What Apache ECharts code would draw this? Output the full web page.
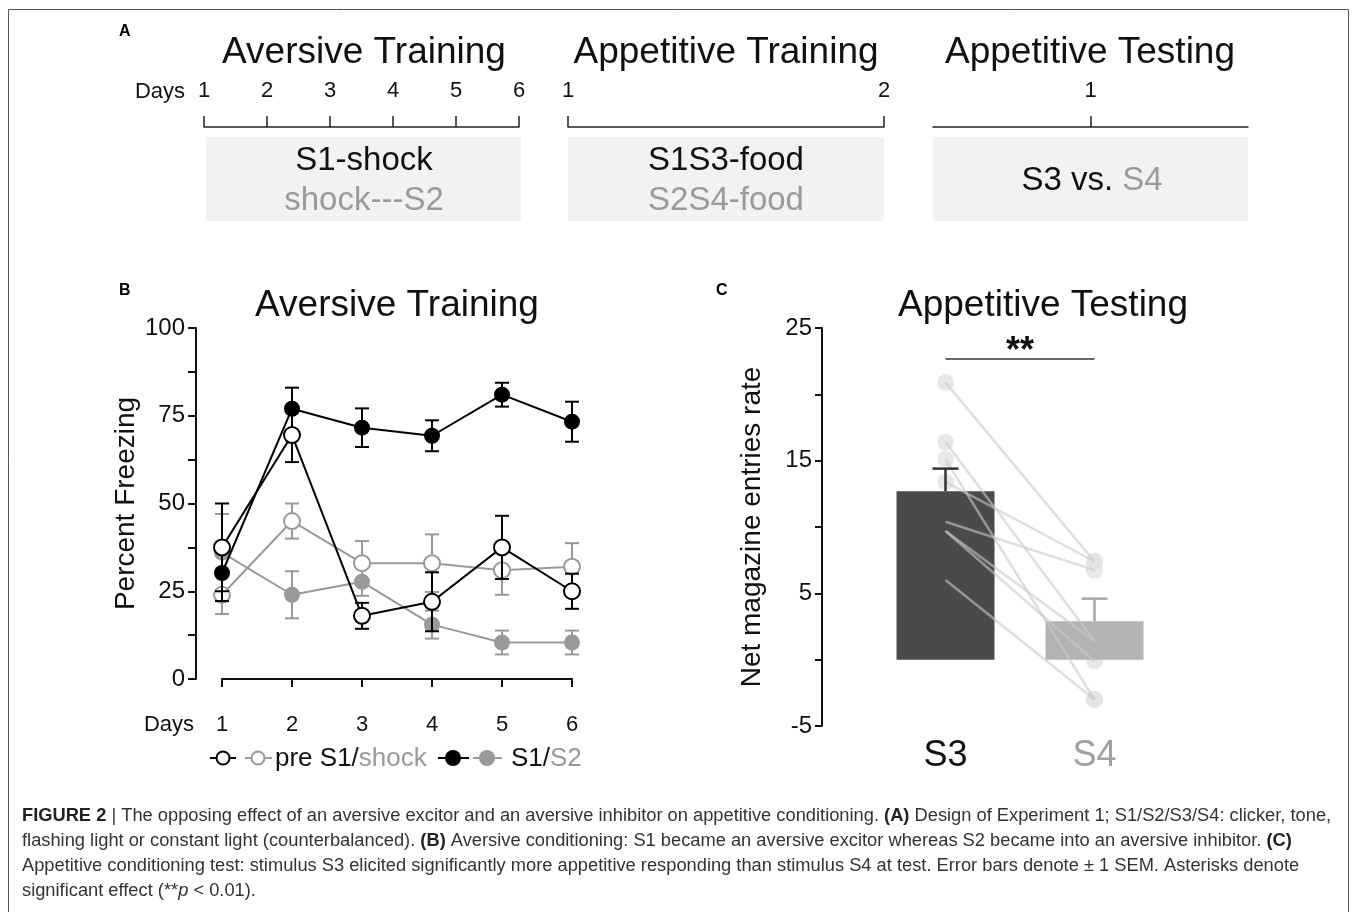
<!DOCTYPE html>
<html>
<head>
    <meta charset="utf-8">
    <title>Figure 2</title>
    <script src="https://cdn.jsdelivr.net/npm/echarts@6/dist/echarts.min.js"></script>
    <style>
        body { margin: 0; background: #fff; }
        #main { width: 1354px; height: 912px; }
    </style>
</head>
<body>
<div id="main"></div>
<script type="text/javascript">
    // panel B: aversive training, percent freezing by day
    var days = [1, 2, 3, 4, 5, 6];
    var preS1 = [37.5, 69.5, 18, 22, 37.5, 25];
    var preS1Sem = [12.5, 7.7, 3.7, 8.4, 9, 5];
    var preShock = [24, 45, 33, 33, 31, 32];
    var preShockSem = [5.5, 5, 6.3, 8.2, 7, 6.7];
    var s1 = [30.2, 77, 71.6, 69.3, 81, 73.3];
    var s1Sem = [8, 6, 5.5, 4.4, 3.4, 5.7];
    var s2 = [36, 24, 27.7, 15.5, 10.4, 10.4];
    var s2Sem = [11, 6.7, 4, 4, 3.4, 3.4];

    // panel C: appetitive testing
    var groups = ['S3', 'S4'];
    var groupMean = [12.7, 2.9];
    var groupSem = [1.7, 1.7];
    var subjS3 = [20.9, 16.4, 15.1, 13.4, 10.4, 9.7, 9.7, 6.0];
    var subjS4 = [7.4, 1.4, -3.0, 7.4, 6.75, -0.1, 1.4, -3.0];

    var FONT = 'Liberation Sans, Arial, sans-serif';
    var GRAY = '#999';

    function pairs(xs, ys, es) {
        return xs.map(function (x, i) { return es ? [x, ys[i], es[i]] : [x, ys[i]]; });
    }

    function errRender(color) {
        return function (params, api) {
            var x = api.value(0), m = api.value(1), e = api.value(2);
            var top = api.coord([x, m + e]);
            var bot = api.coord([x, m - e]);
            var w = 7;
            var st = {stroke: color, lineWidth: 2, fill: null};
            return {
                type: 'group', children: [
                    {type: 'line', shape: {x1: top[0], y1: top[1], x2: bot[0], y2: bot[1]}, style: st},
                    {type: 'line', shape: {x1: top[0] - w, y1: top[1], x2: top[0] + w, y2: top[1]}, style: st},
                    {type: 'line', shape: {x1: bot[0] - w, y1: bot[1], x2: bot[0] + w, y2: bot[1]}, style: st}
                ]
            };
        };
    }

    function upErrRender(params, api) {
        var x = api.value(0), m = api.value(1), e = api.value(2);
        var base = api.coord([x, m]);
        var top = api.coord([x, m + e]);
        var color = x === 0 ? '#333' : '#a8a8a8';
        var st = {stroke: color, lineWidth: 2.5, fill: null};
        return {
            type: 'group', children: [
                {type: 'line', shape: {x1: base[0], y1: base[1], x2: top[0], y2: top[1]}, style: st},
                {type: 'line', shape: {x1: top[0] - 13, y1: top[1], x2: top[0] + 13, y2: top[1]}, style: st}
            ]
        };
    }

    function pairLineRender(params, api) {
        var a = api.coord([0, api.value(0)]);
        var b = api.coord([1, api.value(1)]);
        return {
            type: 'line',
            shape: {x1: a[0], y1: a[1], x2: b[0], y2: b[1]},
            style: {stroke: 'rgba(200,200,200,0.6)', lineWidth: 2.5}
        };
    }

    // timeline axes of panel A
    function timeAxis(gi, min, max, custom) {
        var ax = {
            type: 'value', gridIndex: gi, position: 'top', min: min, max: max, interval: 1,
            axisLine: {show: true, lineStyle: {color: '#222', width: 1.5}},
            axisTick: {show: true, inside: false, length: 11, lineStyle: {color: '#222', width: 1.5}},
            axisLabel: {show: true, margin: 15, fontSize: 22, color: '#111', fontFamily: FONT},
            splitLine: {show: false}
        };
        if (custom) {
            ax.axisTick.customValues = custom;
            ax.axisLabel.customValues = custom;
        }
        return ax;
    }

    function hiddenY(gi) {
        return {type: 'value', gridIndex: gi, show: false, min: 0, max: 1};
    }

    var chart = echarts.init(document.getElementById('main'));

    var openB = function (c) {
        return {color: '#fff', borderColor: c, borderWidth: 2};
    };

    function label(x, y, text, size, fill, extra) {
        var st = {text: text, fontSize: size, fill: fill, fontFamily: FONT, align: 'center', verticalAlign: 'middle'};
        for (var k in extra || {}) st[k] = extra[k];
        return {type: 'text', x: x, y: y, style: st};
    }

    var CAP = 18.3;
    var capRich = {
        b: {fontSize: CAP, fontWeight: 'bold', fill: '#222', fontFamily: FONT},
        i: {fontSize: CAP, fontStyle: 'italic', fill: '#333', fontFamily: FONT}
    };

    function capLine(y, text) {
        return {type: 'text', x: 22, y: y, style: {
            text: text, fontSize: CAP, fill: '#333', fontFamily: FONT, verticalAlign: 'middle', rich: capRich
        }};
    }

    var option = {
        backgroundColor: '#fff',
        animation: false,
        textStyle: {fontFamily: FONT},
        grid: [
            {left: 204, top: 117, width: 315, height: 10},
            {left: 568, top: 117, width: 316, height: 10},
            {left: 933, top: 117, width: 315, height: 10},
            {left: 222, top: 328, width: 350, height: 351},
            {left: 871, top: 328, width: 298, height: 398}
        ],
        xAxis: [
            timeAxis(0, 1, 6),
            timeAxis(1, 1, 2),
            timeAxis(2, 0, 2, [1]),
            {
                type: 'value', gridIndex: 3, min: 1, max: 6, interval: 1, offset: 26,
                axisLine: {lineStyle: {color: '#111', width: 2}},
                axisTick: {show: true, length: 8, lineStyle: {color: '#111', width: 2}},
                axisLabel: {fontSize: 22, color: '#111', margin: 9},
                splitLine: {show: false}
            },
            {
                type: 'category', gridIndex: 4, data: groups,
                axisLine: {show: false}, axisTick: {show: false},
                axisLabel: {
                    fontSize: 36, margin: 12,
                    color: function (v) { return v === 'S3' ? '#111' : '#a0a0a0'; }
                }
            }
        ],
        yAxis: [
            hiddenY(0), hiddenY(1), hiddenY(2),
            {
                type: 'value', gridIndex: 3, min: 0, max: 100, interval: 25, offset: 26,
                name: 'Percent Freezing', nameLocation: 'middle', nameGap: 56,
                nameTextStyle: {fontSize: 28, color: '#111'},
                axisLine: {show: true, lineStyle: {color: '#111', width: 2}},
                axisTick: {show: true, length: 8, lineStyle: {color: '#111', width: 2}},
                minorTick: {show: true, splitNumber: 2, length: 8, lineStyle: {color: '#111', width: 2}},
                axisLabel: {fontSize: 24, color: '#111', margin: 11},
                splitLine: {show: false}
            },
            {
                type: 'value', gridIndex: 4, min: -5, max: 25, interval: 5, offset: 49,
                name: 'Net magazine entries rate', nameLocation: 'middle', nameGap: 56,
                nameTextStyle: {fontSize: 28, color: '#111'},
                axisLine: {show: true, lineStyle: {color: '#111', width: 2}},
                axisTick: {show: true, length: 7, lineStyle: {color: '#111', width: 2}},
                axisLabel: {
                    fontSize: 24, color: '#111', margin: 10,
                    formatter: function (v) { return (v + 5) % 10 === 0 ? String(v) : ''; }
                },
                splitLine: {show: false}
            }
        ],
        series: [
            // panel B
            {
                type: 'custom', xAxisIndex: 3, yAxisIndex: 3, z: 2,
                renderItem: errRender(GRAY), encode: {x: 0, y: 1},
                data: pairs(days, preShock, preShockSem).concat(pairs(days, s2, s2Sem))
            },
            {
                type: 'line', xAxisIndex: 3, yAxisIndex: 3, z: 3,
                data: pairs(days, preShock), symbol: 'circle', symbolSize: 16, showAllSymbol: true,
                lineStyle: {color: GRAY, width: 2}, itemStyle: openB(GRAY)
            },
            {
                type: 'line', xAxisIndex: 3, yAxisIndex: 3, z: 3,
                data: pairs(days, s2), symbol: 'circle', symbolSize: 16,
                lineStyle: {color: GRAY, width: 2}, itemStyle: {color: GRAY}
            },
            {
                type: 'custom', xAxisIndex: 3, yAxisIndex: 3, z: 4,
                renderItem: errRender('#000'), encode: {x: 0, y: 1},
                data: pairs(days, preS1, preS1Sem).concat(pairs(days, s1, s1Sem))
            },
            {
                type: 'line', xAxisIndex: 3, yAxisIndex: 3, z: 5,
                data: pairs(days, s1), symbol: 'circle', symbolSize: 16,
                lineStyle: {color: '#000', width: 2}, itemStyle: {color: '#000'}
            },
            {
                type: 'line', xAxisIndex: 3, yAxisIndex: 3, z: 5,
                data: pairs(days, preS1), symbol: 'circle', symbolSize: 16,
                lineStyle: {color: '#000', width: 2}, itemStyle: openB('#000')
            },
            // panel C
            {
                type: 'scatter', xAxisIndex: 4, yAxisIndex: 4, z: 1,
                symbolSize: 17, itemStyle: {color: '#e2e2e2'},
                data: subjS3.map(function (v) { return [0, v]; })
                    .concat(subjS4.map(function (v) { return [1, v]; }))
            },
            {
                type: 'bar', xAxisIndex: 4, yAxisIndex: 4, z: 2, barWidth: 98,
                data: groupMean.map(function (v, i) {
                    return {value: v, itemStyle: {color: i === 0 ? '#4a4a4a' : '#b3b3b3'}};
                }),
                markLine: {
                    symbol: 'none', silent: true,
                    lineStyle: {color: '#333', width: 1.5, type: 'solid'},
                    label: {show: true, position: 'middle', formatter: '**', fontSize: 36,
                        fontWeight: 'bold', color: '#111', distance: -12},
                    data: [[{coord: ['S3', 22.7]}, {coord: ['S4', 22.7]}]]
                }
            },
            {
                type: 'custom', xAxisIndex: 4, yAxisIndex: 4, z: 3,
                renderItem: pairLineRender,
                data: subjS3.map(function (v, i) { return [v, subjS4[i]]; })
            },
            {
                type: 'custom', xAxisIndex: 4, yAxisIndex: 4, z: 4,
                renderItem: upErrRender, encode: {x: 0, y: 1},
                data: groupMean.map(function (v, i) { return [i, v, groupSem[i]]; })
            }
        ],
        graphic: [
            // frame
            {type: 'rect', shape: {x: 8.5, y: 9.5, width: 1340, height: 920},
                style: {fill: null, stroke: '#555', lineWidth: 1}, silent: true},
            // panel letters
            {type: 'text', x: 119, y: 24, style: {text: 'A', fontSize: 16, fontWeight: 'bold', fill: '#000', fontFamily: FONT}},
            {type: 'text', x: 119, y: 283, style: {text: 'B', fontSize: 16, fontWeight: 'bold', fill: '#000', fontFamily: FONT}},
            {type: 'text', x: 716, y: 283, style: {text: 'C', fontSize: 16, fontWeight: 'bold', fill: '#000', fontFamily: FONT}},
            // panel A titles and design boxes
            label(364, 53, 'Aversive Training', 37, '#111'),
            label(726, 53, 'Appetitive Training', 37, '#111'),
            label(1090, 53, 'Appetitive Testing', 37, '#111'),
            label(160, 92, 'Days', 22, '#111'),
            {type: 'rect', shape: {x: 206, y: 137, width: 315, height: 84}, style: {fill: '#f2f2f2'}},
            {type: 'rect', shape: {x: 568, y: 137, width: 316, height: 84}, style: {fill: '#f2f2f2'}},
            {type: 'rect', shape: {x: 933, y: 137, width: 315, height: 84}, style: {fill: '#f2f2f2'}},
            label(364, 161, 'S1-shock', 33, '#111'),
            label(364, 201, 'shock---S2', 33, '#9a9a9a'),
            label(726, 161, 'S1S3-food', 33, '#111'),
            label(726, 201, 'S2S4-food', 33, '#9a9a9a'),
            label(1092, 181, 'S3 vs. {g|S4}', 33, '#111', {rich: {g: {fontSize: 33, fill: '#9a9a9a', fontFamily: FONT}}}),
            // panel B / C titles
            label(397, 306, 'Aversive Training', 37, '#111'),
            label(1043, 306, 'Appetitive Testing', 37, '#111'),
            label(169, 725, 'Days', 22, '#111'),
            // legend of panel B
            {type: 'line', shape: {x1: 210, y1: 758, x2: 236, y2: 758}, style: {stroke: '#000', lineWidth: 2}},
            {type: 'circle', shape: {cx: 223, cy: 758, r: 6.5}, style: {fill: '#fff', stroke: '#000', lineWidth: 2}},
            {type: 'line', shape: {x1: 245, y1: 758, x2: 272, y2: 758}, style: {stroke: GRAY, lineWidth: 2}},
            {type: 'circle', shape: {cx: 258, cy: 758, r: 6.5}, style: {fill: '#fff', stroke: GRAY, lineWidth: 2}},
            {type: 'text', x: 275, y: 759, style: {
                text: 'pre S1/{g|shock}', fontSize: 26, fill: '#111', fontFamily: FONT, verticalAlign: 'middle',
                rich: {g: {fontSize: 26, fill: GRAY, fontFamily: FONT}}
            }},
            {type: 'line', shape: {x1: 438, y1: 758, x2: 469, y2: 758}, style: {stroke: '#000', lineWidth: 2}},
            {type: 'circle', shape: {cx: 453, cy: 758, r: 8}, style: {fill: '#000'}},
            {type: 'line', shape: {x1: 473, y1: 758, x2: 502, y2: 758}, style: {stroke: GRAY, lineWidth: 2}},
            {type: 'circle', shape: {cx: 487, cy: 758, r: 8}, style: {fill: GRAY}},
            {type: 'text', x: 511, y: 759, style: {
                text: 'S1/{g|S2}', fontSize: 26, fill: '#111', fontFamily: FONT, verticalAlign: 'middle',
                rich: {g: {fontSize: 26, fill: GRAY, fontFamily: FONT}}
            }},
            // caption
            capLine(816, '{b|FIGURE 2} | The opposing effect of an aversive excitor and an aversive inhibitor on appetitive conditioning. {b|(A)} Design of Experiment 1; S1/S2/S3/S4: clicker, tone,'),
            capLine(841, 'flashing light or constant light (counterbalanced). {b|(B)} Aversive conditioning: S1 became an aversive excitor whereas S2 became into an aversive inhibitor. {b|(C)}'),
            capLine(866, 'Appetitive conditioning test: stimulus S3 elicited significantly more appetitive responding than stimulus S4 at test. Error bars denote \u00b1 1 SEM. Asterisks denote'),
            capLine(891, 'significant effect (**{i|p} < 0.01).')
        ]
    };

    chart.setOption(option);
</script>
</body>
</html>
